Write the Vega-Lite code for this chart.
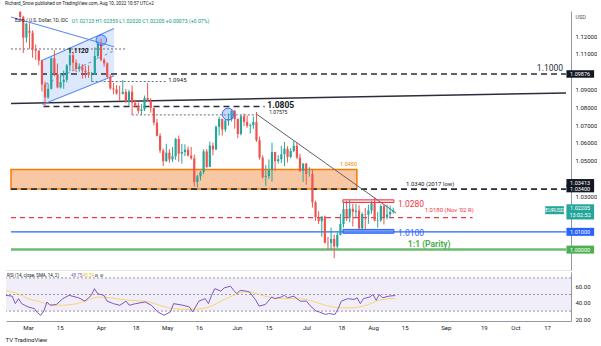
{
"$schema":"https://vega.github.io/schema/vega-lite/v6.json",
"background":"white",
"padding":{"left":5,"top":1,"right":0,"bottom":0},
"title":{"text":"Richard_Snow published on TradingView.com, Aug 10, 2022 10:57 UTC+2","anchor":"start","fontSize":4.6,"fontWeight":"normal","color":"#131722","offset":5.4,"font":"Roboto"},
"config":{"view":{"stroke":null},"font":"Roboto","concat":{"spacing":2},"axis":{"labelOverlap":false,"labelFlush":false,"grid":false,"ticks":false}},
"spacing":2,
"datasets":{
"candles":[
{"i":-4,"o":1.1335,"h":1.1344,"l":1.1290,"c":1.1308},
{"i":-3,"o":1.1308,"h":1.1315,"l":1.1106,"c":1.1192},
{"i":-2,"o":1.1192,"h":1.1274,"l":1.1164,"c":1.1270},
{"i":-1,"o":1.1230,"h":1.1273,"l":1.1129,"c":1.1219},
{"i":0,"o":1.1219,"h":1.1233,"l":1.1079,"c":1.1125},
{"i":1,"o":1.1125,"h":1.1153,"l":1.1066,"c":1.1118},
{"i":2,"o":1.1118,"h":1.1122,"l":1.1036,"c":1.1064},
{"i":3,"o":1.1064,"h":1.1069,"l":1.0889,"c":1.0929},
{"i":4,"o":1.0929,"h":1.0945,"l":1.0806,"c":1.0856},
{"i":5,"o":1.0856,"h":1.0933,"l":1.0848,"c":1.0904},
{"i":6,"o":1.0904,"h":1.1081,"l":1.0900,"c":1.1076},
{"i":7,"o":1.1076,"h":1.1121,"l":1.0975,"c":1.0986},
{"i":8,"o":1.0986,"h":1.1046,"l":1.0907,"c":1.0912},
{"i":9,"o":1.0912,"h":1.0992,"l":1.0906,"c":1.0942},
{"i":10,"o":1.0942,"h":1.1007,"l":1.0904,"c":1.0955},
{"i":11,"o":1.0955,"h":1.1043,"l":1.0940,"c":1.1036},
{"i":12,"o":1.1036,"h":1.1137,"l":1.1003,"c":1.1093},
{"i":13,"o":1.1093,"h":1.1113,"l":1.1008,"c":1.1051},
{"i":14,"o":1.1051,"h":1.1069,"l":1.0998,"c":1.1016},
{"i":15,"o":1.1016,"h":1.1047,"l":1.1000,"c":1.1030},
{"i":16,"o":1.1030,"h":1.1044,"l":1.0962,"c":1.1006},
{"i":17,"o":1.1006,"h":1.1033,"l":1.0964,"c":1.0998},
{"i":18,"o":1.0998,"h":1.1036,"l":1.0966,"c":1.0983},
{"i":19,"o":1.0983,"h":1.0999,"l":1.0945,"c":1.0985},
{"i":20,"o":1.0985,"h":1.1137,"l":1.0984,"c":1.1089},
{"i":21,"o":1.1089,"h":1.1170,"l":1.1073,"c":1.1158},
{"i":22,"o":1.1158,"h":1.1185,"l":1.1058,"c":1.1067},
{"i":23,"o":1.1067,"h":1.1077,"l":1.1028,"c":1.1047},
{"i":24,"o":1.1047,"h":1.1053,"l":1.0966,"c":1.0971},
{"i":25,"o":1.0971,"h":1.0985,"l":1.0900,"c":1.0906},
{"i":26,"o":1.0906,"h":1.0937,"l":1.0873,"c":1.0901},
{"i":27,"o":1.0901,"h":1.0925,"l":1.0872,"c":1.0877},
{"i":28,"o":1.0877,"h":1.0922,"l":1.0837,"c":1.0876},
{"i":29,"o":1.0876,"h":1.0954,"l":1.0872,"c":1.0887},
{"i":30,"o":1.0887,"h":1.0903,"l":1.0823,"c":1.0829},
{"i":31,"o":1.0829,"h":1.0898,"l":1.0808,"c":1.0888},
{"i":32,"o":1.0888,"h":1.0923,"l":1.0757,"c":1.0825},
{"i":33,"o":1.0825,"h":1.0842,"l":1.0800,"c":1.0810},
{"i":34,"o":1.0810,"h":1.0827,"l":1.0764,"c":1.0780},
{"i":35,"o":1.0780,"h":1.0818,"l":1.0757,"c":1.0788},
{"i":36,"o":1.0788,"h":1.0866,"l":1.0779,"c":1.0853},
{"i":37,"o":1.0853,"h":1.0936,"l":1.0830,"c":1.0837},
{"i":38,"o":1.0837,"h":1.0851,"l":1.0770,"c":1.0797},
{"i":39,"o":1.0797,"h":1.0797,"l":1.0698,"c":1.0714},
{"i":40,"o":1.0714,"h":1.0734,"l":1.0637,"c":1.0640},
{"i":41,"o":1.0640,"h":1.0654,"l":1.0543,"c":1.0557},
{"i":42,"o":1.0557,"h":1.0568,"l":1.0470,"c":1.0497},
{"i":43,"o":1.0497,"h":1.0595,"l":1.0494,"c":1.0545},
{"i":44,"o":1.0545,"h":1.0565,"l":1.0489,"c":1.0507},
{"i":45,"o":1.0507,"h":1.0576,"l":1.0493,"c":1.0525},
{"i":46,"o":1.0525,"h":1.0628,"l":1.0505,"c":1.0622},
{"i":47,"o":1.0622,"h":1.0641,"l":1.0493,"c":1.0540},
{"i":48,"o":1.0540,"h":1.0594,"l":1.0483,"c":1.0549},
{"i":49,"o":1.0549,"h":1.0592,"l":1.0526,"c":1.0562},
{"i":50,"o":1.0562,"h":1.0580,"l":1.0523,"c":1.0529},
{"i":51,"o":1.0529,"h":1.0577,"l":1.0506,"c":1.0513},
{"i":52,"o":1.0513,"h":1.0534,"l":1.0355,"c":1.0380},
{"i":53,"o":1.0380,"h":1.0421,"l":1.0350,"c":1.0412},
{"i":54,"o":1.0412,"h":1.0443,"l":1.0389,"c":1.0436},
{"i":55,"o":1.0436,"h":1.0564,"l":1.0424,"c":1.0552},
{"i":56,"o":1.0552,"h":1.0566,"l":1.0459,"c":1.0465},
{"i":57,"o":1.0465,"h":1.0607,"l":1.0463,"c":1.0585},
{"i":58,"o":1.0585,"h":1.0602,"l":1.0531,"c":1.0563},
{"i":59,"o":1.0563,"h":1.0698,"l":1.0560,"c":1.0690},
{"i":60,"o":1.0690,"h":1.0748,"l":1.0642,"c":1.0734},
{"i":61,"o":1.0734,"h":1.0737,"l":1.0641,"c":1.0675},
{"i":62,"o":1.0675,"h":1.0733,"l":1.0662,"c":1.0726},
{"i":63,"o":1.0726,"h":1.0765,"l":1.0697,"c":1.0733},
{"i":64,"o":1.0733,"h":1.0787,"l":1.0720,"c":1.0780},
{"i":65,"o":1.0780,"h":1.0786,"l":1.0680,"c":1.0734},
{"i":66,"o":1.0734,"h":1.0738,"l":1.0627,"c":1.0650},
{"i":67,"o":1.0650,"h":1.0757,"l":1.0642,"c":1.0750},
{"i":68,"o":1.0750,"h":1.0765,"l":1.0695,"c":1.0718},
{"i":69,"o":1.0718,"h":1.0754,"l":1.0685,"c":1.0696},
{"i":70,"o":1.0696,"h":1.0708,"l":1.0653,"c":1.0700},
{"i":71,"o":1.0700,"h":1.0748,"l":1.0679,"c":1.0717},
{"i":72,"o":1.0717,"h":1.0774,"l":1.0606,"c":1.0615},
{"i":73,"o":1.0615,"h":1.0636,"l":1.0506,"c":1.0517},
{"i":74,"o":1.0517,"h":1.0530,"l":1.0398,"c":1.0408},
{"i":75,"o":1.0408,"h":1.0475,"l":1.0359,"c":1.0413},
{"i":76,"o":1.0413,"h":1.0507,"l":1.0398,"c":1.0446},
{"i":77,"o":1.0446,"h":1.0601,"l":1.0382,"c":1.0549},
{"i":78,"o":1.0549,"h":1.0550,"l":1.0444,"c":1.0497},
{"i":79,"o":1.0497,"h":1.0531,"l":1.0484,"c":1.0508},
{"i":80,"o":1.0508,"h":1.0583,"l":1.0487,"c":1.0536},
{"i":81,"o":1.0536,"h":1.0605,"l":1.0469,"c":1.0567},
{"i":82,"o":1.0567,"h":1.0581,"l":1.0490,"c":1.0521},
{"i":83,"o":1.0521,"h":1.0571,"l":1.0513,"c":1.0555},
{"i":84,"o":1.0555,"h":1.0615,"l":1.0548,"c":1.0584},
{"i":85,"o":1.0584,"h":1.0606,"l":1.0510,"c":1.0518},
{"i":86,"o":1.0518,"h":1.0539,"l":1.0437,"c":1.0443},
{"i":87,"o":1.0443,"h":1.0486,"l":1.0381,"c":1.0484},
{"i":88,"o":1.0484,"h":1.0486,"l":1.0365,"c":1.0425},
{"i":89,"o":1.0425,"h":1.0463,"l":1.0410,"c":1.0425},
{"i":90,"o":1.0425,"h":1.0450,"l":1.0236,"c":1.0266},
{"i":91,"o":1.0266,"h":1.0276,"l":1.0162,"c":1.0182},
{"i":92,"o":1.0182,"h":1.0216,"l":1.0144,"c":1.0160},
{"i":93,"o":1.0160,"h":1.0187,"l":1.0072,"c":1.0186},
{"i":94,"o":1.0186,"h":1.0191,"l":1.0034,"c":1.0039},
{"i":95,"o":1.0039,"h":1.0072,"l":0.9999,"c":1.0037},
{"i":96,"o":1.0037,"h":1.0124,"l":0.9998,"c":1.0060},
{"i":97,"o":1.0060,"h":1.0085,"l":0.9952,"c":1.0018},
{"i":98,"o":1.0018,"h":1.0096,"l":1.0007,"c":1.0083},
{"i":99,"o":1.0083,"h":1.0201,"l":1.0080,"c":1.0144},
{"i":100,"o":1.0144,"h":1.0269,"l":1.0124,"c":1.0228},
{"i":101,"o":1.0228,"h":1.0274,"l":1.0162,"c":1.0180},
{"i":102,"o":1.0180,"h":1.0278,"l":1.0154,"c":1.0230},
{"i":103,"o":1.0230,"h":1.0258,"l":1.0130,"c":1.0213},
{"i":104,"o":1.0213,"h":1.0258,"l":1.0180,"c":1.0220},
{"i":105,"o":1.0220,"h":1.0250,"l":1.0110,"c":1.0120},
{"i":106,"o":1.0120,"h":1.0210,"l":1.0097,"c":1.0200},
{"i":107,"o":1.0200,"h":1.0235,"l":1.0113,"c":1.0197},
{"i":108,"o":1.0197,"h":1.0253,"l":1.0145,"c":1.0220},
{"i":109,"o":1.0220,"h":1.0274,"l":1.0201,"c":1.0260},
{"i":110,"o":1.0260,"h":1.0294,"l":1.0159,"c":1.0163},
{"i":111,"o":1.0163,"h":1.0211,"l":1.0123,"c":1.0165},
{"i":112,"o":1.0165,"h":1.0254,"l":1.0155,"c":1.0245},
{"i":113,"o":1.0245,"h":1.0253,"l":1.0141,"c":1.0181},
{"i":114,"o":1.0181,"h":1.0253,"l":1.0170,"c":1.0198},
{"i":115,"o":1.0198,"h":1.0248,"l":1.0180,"c":1.0212},
{"i":116,"o":1.02123,"h":1.02359,"l":1.02020,"c":1.02205}
],
"seg":[
{"id":"res1","i":-6.95,"i2":171.56,"y":1.09876,"y2":1.09876},
{"id":"res2","i":3.5,"i2":74.6,"y":1.0805,"y2":1.0805},
{"id":"sup1","i":-6.95,"i2":171.56,"y":1.0340,"y2":1.0340},
{"id":"dot1","i":-6.95,"i2":30.3,"y":1.1128,"y2":1.1128},
{"id":"dot2","i":19,"i2":42.9,"y":1.0945,"y2":1.0945},
{"id":"dot3","i":31.9,"i2":72,"y":1.07575,"y2":1.07575},
{"id":"trend","i":-6.95,"i2":171.56,"y":1.0822,"y2":1.0881},
{"id":"diag","i":72,"i2":116.9,"y":1.0762,"y2":1.0205},
{"id":"desc","i":-6.95,"i2":26.2,"y":1.1308,"y2":1.1141},
{"id":"chUp","i":3.16,"i2":26.2,"y":1.1065,"y2":1.1243},
{"id":"chLo","i":3.16,"i2":26.2,"y":1.0816,"y2":1.0978},
{"id":"chMid","i":4.1,"i2":26.2,"y":1.0930,"y2":1.1119},
{"id":"r1018","i":-6.95,"i2":141.5,"y":1.0180,"y2":1.0180},
{"id":"b1010","i":-6.95,"i2":171.56,"y":1.0100,"y2":1.0100},
{"id":"parity","i":-6.95,"i2":171.56,"y":1.0,"y2":1.0}
],
"rsi":[
{"i":-7,"v":49},{"i":-5,"v":48},{"i":-4,"v":39},{"i":-3,"v":45},{"i":-2,"v":39},{"i":-1,"v":37},{"i":0,"v":35},{"i":2,"v":33},{"i":3,"v":28},{"i":4,"v":25},{"i":5,"v":30},{"i":6,"v":41},{"i":7,"v":37},{"i":9,"v":38},{"i":11,"v":45},{"i":13,"v":49},{"i":16,"v":46},{"i":18,"v":42},{"i":20,"v":49},{"i":21,"v":57},{"i":22,"v":51},{"i":24,"v":49},{"i":25,"v":42},{"i":27,"v":39},{"i":29,"v":37},{"i":31,"v":42},{"i":32,"v":37},{"i":34,"v":39},{"i":37,"v":41},{"i":39,"v":37},{"i":41,"v":29},{"i":43,"v":25},{"i":45,"v":29},{"i":46,"v":39},{"i":49,"v":37},{"i":51,"v":35},{"i":52,"v":29},{"i":54,"v":42},{"i":56,"v":45},{"i":57,"v":39},{"i":58,"v":49},{"i":59,"v":57},{"i":61,"v":54},{"i":62,"v":58},{"i":64,"v":60},{"i":65,"v":55},{"i":66,"v":51},{"i":67,"v":55},{"i":69,"v":54},{"i":70,"v":53},{"i":72,"v":43},{"i":73,"v":36},{"i":75,"v":38},{"i":77,"v":47},{"i":78,"v":45},{"i":80,"v":47},{"i":81,"v":49},{"i":82,"v":46},{"i":84,"v":48},{"i":86,"v":42},{"i":88,"v":42},{"i":89,"v":37},{"i":91,"v":30},{"i":92,"v":29},{"i":94,"v":26},{"i":95,"v":27},{"i":97,"v":26},{"i":98,"v":33},{"i":99,"v":42},{"i":101,"v":45},{"i":103,"v":44},{"i":104,"v":46},{"i":105,"v":39},{"i":106,"v":45},{"i":108,"v":47},{"i":109,"v":50},{"i":110,"v":43},{"i":111,"v":50},{"i":112,"v":46},{"i":114,"v":48},{"i":116,"v":48.75}
],
"sma":[
{"i":-7,"v":55},{"i":-5,"v":53},{"i":-2,"v":49},{"i":0,"v":45},{"i":3,"v":42},{"i":7,"v":38},{"i":10,"v":37},{"i":14,"v":38},{"i":18,"v":42},{"i":22,"v":47},{"i":26,"v":46},{"i":32,"v":43},{"i":37,"v":42},{"i":42,"v":36.5},{"i":46,"v":33},{"i":51,"v":32},{"i":55,"v":33},{"i":58,"v":36},{"i":61,"v":42},{"i":65,"v":49},{"i":68,"v":53},{"i":70,"v":53},{"i":74,"v":49},{"i":77,"v":46},{"i":81,"v":45},{"i":86,"v":45},{"i":89,"v":43},{"i":95,"v":36},{"i":99,"v":34},{"i":102,"v":34},{"i":106,"v":36},{"i":111,"v":43},{"i":116,"v":45.54}
]
},
"vconcat":[
{
"width":565,"height":259,
"layer":[
{"data":{"values":[{"i":-6.95,"i2":104.3,"y":1.03413,"y2":1.0450}]},
 "mark":{"type":"rect","fill":"#f8c8a4","stroke":"#f57c00","strokeWidth":1.5},
 "encoding":{
  "x":{"field":"i","type":"quantitative","scale":{"domain":[-6.95,171.56],"nice":false,"zero":false},"axis":{"labels":false,"ticks":false,"domain":true,"domainColor":"#e0e3eb","grid":false,"title":null,"tickCount":5}},
  "x2":{"field":"i2"},
  "y":{"field":"y","type":"quantitative","scale":{"domain":[0.991351,1.131351],"nice":false,"zero":false},"axis":{"orient":"right","values":[1.03,1.05,1.06,1.07,1.08,1.09,1.11,1.12],"tickCount":100,"format":".5f","labelFontSize":6,"labelColor":"#131722","ticks":false,"labelPadding":4,"labelFlush":false,"labelOverlap":false,"domain":true,"domainColor":"#9598a1","grid":false,"title":"USD","titleAngle":0,"titleAlign":"left","titleBaseline":"middle","titleX":4,"titleY":5,"titleFontSize":5.5,"titleFontWeight":"normal","titleColor":"#555"}},
  "y2":{"field":"y2"}}},
{"data":{"values":[{"i":3.16,"y":1.0816,"y2":1.1065},{"i":26.2,"y":1.0978,"y2":1.1243}]},
 "mark":{"type":"area","color":"#5b8def","opacity":0.2},
 "encoding":{
  "x":{"field":"i","type":"quantitative","scale":{"domain":[-6.95,171.56],"nice":false,"zero":false}},
  "y":{"field":"y","type":"quantitative","scale":{"domain":[0.991351,1.131351],"nice":false,"zero":false}},
  "y2":{"field":"y2"}}},
{"data":{"name":"seg"},"transform":[{"filter":{"field":"id","oneOf":["res1","res2","sup1"]}}],
 "mark":{"type":"rule","color":"#2a2e39","strokeWidth":1.6,"strokeDash":[6,4],"clip":true},
 "encoding":{"x":{"field":"i","type":"quantitative","scale":{"domain":[-6.95,171.56],"nice":false,"zero":false}},"x2":{"field":"i2"},
  "y":{"field":"y","type":"quantitative","scale":{"domain":[0.991351,1.131351],"nice":false,"zero":false}},"y2":{"field":"y2"}}},
{"data":{"name":"seg"},"transform":[{"filter":{"field":"id","oneOf":["dot1","dot2","dot3"]}}],
 "mark":{"type":"rule","color":"#6a6d78","strokeWidth":1,"strokeDash":[2,2],"clip":true},
 "encoding":{"x":{"field":"i","type":"quantitative","scale":{"domain":[-6.95,171.56],"nice":false,"zero":false}},"x2":{"field":"i2"},
  "y":{"field":"y","type":"quantitative","scale":{"domain":[0.991351,1.131351],"nice":false,"zero":false}},"y2":{"field":"y2"}}},
{"data":{"name":"seg"},"transform":[{"filter":{"field":"id","oneOf":["trend"]}}],
 "mark":{"type":"rule","color":"#2a2e39","strokeWidth":1.5,"clip":true},
 "encoding":{"x":{"field":"i","type":"quantitative","scale":{"domain":[-6.95,171.56],"nice":false,"zero":false}},"x2":{"field":"i2"},
  "y":{"field":"y","type":"quantitative","scale":{"domain":[0.991351,1.131351],"nice":false,"zero":false}},"y2":{"field":"y2"}}},
{"data":{"name":"seg"},"transform":[{"filter":{"field":"id","oneOf":["diag"]}}],
 "mark":{"type":"rule","color":"#5d606b","strokeWidth":1,"clip":true},
 "encoding":{"x":{"field":"i","type":"quantitative","scale":{"domain":[-6.95,171.56],"nice":false,"zero":false}},"x2":{"field":"i2"},
  "y":{"field":"y","type":"quantitative","scale":{"domain":[0.991351,1.131351],"nice":false,"zero":false}},"y2":{"field":"y2"}}},
{"data":{"name":"seg"},"transform":[{"filter":{"field":"id","oneOf":["desc","chUp","chLo"]}}],
 "mark":{"type":"rule","color":"#5b8def","strokeWidth":1.1,"clip":true},
 "encoding":{"x":{"field":"i","type":"quantitative","scale":{"domain":[-6.95,171.56],"nice":false,"zero":false}},"x2":{"field":"i2"},
  "y":{"field":"y","type":"quantitative","scale":{"domain":[0.991351,1.131351],"nice":false,"zero":false}},"y2":{"field":"y2"}}},
{"data":{"name":"seg"},"transform":[{"filter":{"field":"id","oneOf":["chMid"]}}],
 "mark":{"type":"rule","color":"#5b8def","strokeWidth":1,"strokeDash":[3,3],"clip":true},
 "encoding":{"x":{"field":"i","type":"quantitative","scale":{"domain":[-6.95,171.56],"nice":false,"zero":false}},"x2":{"field":"i2"},
  "y":{"field":"y","type":"quantitative","scale":{"domain":[0.991351,1.131351],"nice":false,"zero":false}},"y2":{"field":"y2"}}},
{"data":{"name":"seg"},"transform":[{"filter":{"field":"id","oneOf":["r1018"]}}],
 "mark":{"type":"rule","color":"#f23645","strokeWidth":1.2,"strokeDash":[5,4],"clip":true},
 "encoding":{"x":{"field":"i","type":"quantitative","scale":{"domain":[-6.95,171.56],"nice":false,"zero":false}},"x2":{"field":"i2"},
  "y":{"field":"y","type":"quantitative","scale":{"domain":[0.991351,1.131351],"nice":false,"zero":false}},"y2":{"field":"y2"}}},
{"data":{"name":"seg"},"transform":[{"filter":{"field":"id","oneOf":["b1010"]}}],
 "mark":{"type":"rule","color":"#2962ff","strokeWidth":1.3,"clip":true},
 "encoding":{"x":{"field":"i","type":"quantitative","scale":{"domain":[-6.95,171.56],"nice":false,"zero":false}},"x2":{"field":"i2"},
  "y":{"field":"y","type":"quantitative","scale":{"domain":[0.991351,1.131351],"nice":false,"zero":false}},"y2":{"field":"y2"}}},
{"data":{"name":"seg"},"transform":[{"filter":{"field":"id","oneOf":["parity"]}}],
 "mark":{"type":"rule","color":"#6dbb70","strokeWidth":2.5,"clip":true},
 "encoding":{"x":{"field":"i","type":"quantitative","scale":{"domain":[-6.95,171.56],"nice":false,"zero":false}},"x2":{"field":"i2"},
  "y":{"field":"y","type":"quantitative","scale":{"domain":[0.991351,1.131351],"nice":false,"zero":false}},"y2":{"field":"y2"}}},
{"data":{"name":"candles"},
 "mark":{"type":"rule","strokeWidth":1,"clip":true},
 "encoding":{"x":{"field":"i","type":"quantitative","scale":{"domain":[-6.95,171.56],"nice":false,"zero":false}},
  "y":{"field":"l","type":"quantitative","scale":{"domain":[0.991351,1.131351],"nice":false,"zero":false}},"y2":{"field":"h"},
  "color":{"condition":{"test":"datum.c >= datum.o","value":"#26a69a"},"value":"#ef5350"}}},
{"data":{"name":"candles"},
 "mark":{"type":"bar","size":2.2,"clip":true},
 "encoding":{"x":{"field":"i","type":"quantitative","scale":{"domain":[-6.95,171.56],"nice":false,"zero":false}},
  "y":{"field":"o","type":"quantitative","scale":{"domain":[0.991351,1.131351],"nice":false,"zero":false}},"y2":{"field":"c"},
  "color":{"condition":{"test":"datum.c >= datum.o","value":"#26a69a"},"value":"#ef5350"}}},
{"data":{"values":[{"i":99.8,"i2":116.2,"y":1.0265,"y2":1.0280}]},
 "mark":{"type":"rect","fill":"#f23645","fillOpacity":0.2,"stroke":"#f23645","strokeWidth":1},
 "encoding":{"x":{"field":"i","type":"quantitative","scale":{"domain":[-6.95,171.56],"nice":false,"zero":false}},"x2":{"field":"i2"},
  "y":{"field":"y","type":"quantitative","scale":{"domain":[0.991351,1.131351],"nice":false,"zero":false}},"y2":{"field":"y2"}}},
{"data":{"values":[{"i":99.8,"i2":116.2,"y":1.0092,"y2":1.01135}]},
 "mark":{"type":"rect","fill":"#5b8def","fillOpacity":0.85,"stroke":"#2962ff","strokeWidth":1},
 "encoding":{"x":{"field":"i","type":"quantitative","scale":{"domain":[-6.95,171.56],"nice":false,"zero":false}},"x2":{"field":"i2"},
  "y":{"field":"y","type":"quantitative","scale":{"domain":[0.991351,1.131351],"nice":false,"zero":false}},"y2":{"field":"y2"}}},
{"data":{"values":[{"i":22.1,"y":1.1178,"s":110},{"i":62.9,"y":1.0762,"s":140}]},
 "mark":{"type":"point","shape":"circle","filled":true,"fill":"#5b8def","fillOpacity":0.35,"stroke":"#2962ff","strokeWidth":1,"strokeOpacity":0.9},
 "encoding":{"x":{"field":"i","type":"quantitative","scale":{"domain":[-6.95,171.56],"nice":false,"zero":false}},
  "y":{"field":"y","type":"quantitative","scale":{"domain":[0.991351,1.131351],"nice":false,"zero":false}},
  "size":{"field":"s","type":"quantitative","scale":null,"legend":null}}},
{"data":{"values":[{"t":"1.1000","i":170.6,"y":1.1022}]},
 "mark":{"type":"text","align":"right","baseline":"middle","fontSize":8.5,"color":"#2a2e39"},
 "encoding":{"x":{"field":"i","type":"quantitative","scale":{"domain":[-6.95,171.56],"nice":false,"zero":false}},
  "y":{"field":"y","type":"quantitative","scale":{"domain":[0.991351,1.131351],"nice":false,"zero":false}},"text":{"field":"t"}}},
{"data":{"values":[{"t":"1.0805","i":75.5,"y":1.0811}]},
 "mark":{"type":"text","align":"left","baseline":"middle","fontSize":8.5,"fontWeight":"bold","color":"#131722"},
 "encoding":{"x":{"field":"i","type":"quantitative","scale":{"domain":[-6.95,171.56],"nice":false,"zero":false}},
  "y":{"field":"y","type":"quantitative","scale":{"domain":[0.991351,1.131351],"nice":false,"zero":false}},"text":{"field":"t"}}},
{"data":{"values":[{"t":"1.1120","i":11.4,"y":1.1119}]},
 "mark":{"type":"text","align":"left","baseline":"middle","fontSize":6.5,"fontWeight":"bold","color":"#131722"},
 "encoding":{"x":{"field":"i","type":"quantitative","scale":{"domain":[-6.95,171.56],"nice":false,"zero":false}},
  "y":{"field":"y","type":"quantitative","scale":{"domain":[0.991351,1.131351],"nice":false,"zero":false}},"text":{"field":"t"}}},
{"data":{"values":[{"t":"1.0945","i":43.6,"y":1.0951},{"t":"1.0340 (2017 low)","i":120.1,"y":1.0368}]},
 "mark":{"type":"text","align":"left","baseline":"middle","fontSize":6,"color":"#131722"},
 "encoding":{"x":{"field":"i","type":"quantitative","scale":{"domain":[-6.95,171.56],"nice":false,"zero":false}},
  "y":{"field":"y","type":"quantitative","scale":{"domain":[0.991351,1.131351],"nice":false,"zero":false}},"text":{"field":"t"}}},
{"data":{"values":[{"t":"1.07575","i":76.1,"y":1.0773}]},
 "mark":{"type":"text","align":"left","baseline":"middle","fontSize":5,"color":"#131722"},
 "encoding":{"x":{"field":"i","type":"quantitative","scale":{"domain":[-6.95,171.56],"nice":false,"zero":false}},
  "y":{"field":"y","type":"quantitative","scale":{"domain":[0.991351,1.131351],"nice":false,"zero":false}},"text":{"field":"t"}}},
{"data":{"values":[{"t":"1.0450","i":98.9,"y":1.0481}]},
 "mark":{"type":"text","align":"left","baseline":"middle","fontSize":5.5,"color":"#f57c00"},
 "encoding":{"x":{"field":"i","type":"quantitative","scale":{"domain":[-6.95,171.56],"nice":false,"zero":false}},
  "y":{"field":"y","type":"quantitative","scale":{"domain":[0.991351,1.131351],"nice":false,"zero":false}},"text":{"field":"t"}}},
{"data":{"values":[{"t":"1.0280","i":117.5,"y":1.0254}]},
 "mark":{"type":"text","align":"left","baseline":"middle","fontSize":8.5,"color":"#f23645"},
 "encoding":{"x":{"field":"i","type":"quantitative","scale":{"domain":[-6.95,171.56],"nice":false,"zero":false}},
  "y":{"field":"y","type":"quantitative","scale":{"domain":[0.991351,1.131351],"nice":false,"zero":false}},"text":{"field":"t"}}},
{"data":{"values":[{"t":"1.0180 (Nov '02 R)","i":126.1,"y":1.0222}]},
 "mark":{"type":"text","align":"left","baseline":"middle","fontSize":6,"color":"#f23645"},
 "encoding":{"x":{"field":"i","type":"quantitative","scale":{"domain":[-6.95,171.56],"nice":false,"zero":false}},
  "y":{"field":"y","type":"quantitative","scale":{"domain":[0.991351,1.131351],"nice":false,"zero":false}},"text":{"field":"t"}}},
{"data":{"values":[{"t":"1.0100","i":117.5,"y":1.0092}]},
 "mark":{"type":"text","align":"left","baseline":"middle","fontSize":8.5,"color":"#2962ff"},
 "encoding":{"x":{"field":"i","type":"quantitative","scale":{"domain":[-6.95,171.56],"nice":false,"zero":false}},
  "y":{"field":"y","type":"quantitative","scale":{"domain":[0.991351,1.131351],"nice":false,"zero":false}},"text":{"field":"t"}}},
{"data":{"values":[{"t":"1:1 (Parity)","i":120.7,"y":1.0032}]},
 "mark":{"type":"text","align":"left","baseline":"middle","fontSize":8.5,"fontWeight":"bold","color":"#4caf50"},
 "encoding":{"x":{"field":"i","type":"quantitative","scale":{"domain":[-6.95,171.56],"nice":false,"zero":false}},
  "y":{"field":"y","type":"quantitative","scale":{"domain":[0.991351,1.131351],"nice":false,"zero":false}},"text":{"field":"t"}}},
{"data":{"values":[{"t":"Euro / U.S. Dollar, 1D, IDC","i":-5.7,"y":1.1286}]},
 "mark":{"type":"text","align":"left","baseline":"middle","fontSize":4.8,"color":"#131722"},
 "encoding":{"x":{"field":"i","type":"quantitative","scale":{"domain":[-6.95,171.56],"nice":false,"zero":false}},
  "y":{"field":"y","type":"quantitative","scale":{"domain":[0.991351,1.131351],"nice":false,"zero":false}},"text":{"field":"t"}}},
{"data":{"values":[{"t":"O1.02123  H1.02359  L1.02020  C1.02205  +0.00073 (+0.07%)","i":12.6,"y":1.1286}]},
 "mark":{"type":"text","align":"left","baseline":"middle","fontSize":5.2,"color":"#089981"},
 "encoding":{"x":{"field":"i","type":"quantitative","scale":{"domain":[-6.95,171.56],"nice":false,"zero":false}},
  "y":{"field":"y","type":"quantitative","scale":{"domain":[0.991351,1.131351],"nice":false,"zero":false}},"text":{"field":"t"}}},
{"data":{"values":[{"t":"EURUSD","y":1.02216}]},
 "mark":{"type":"bar","orient":"horizontal","size":8,"color":"#26a69a","clip":false},
 "encoding":{"x":{"datum":164.9,"type":"quantitative","scale":{"domain":[-6.95,171.56],"nice":false,"zero":false}},"x2":{"datum":170.9},
  "y":{"field":"y","type":"quantitative","scale":{"domain":[0.991351,1.131351],"nice":false,"zero":false}}}},
{"data":{"values":[{"t":"EURUSD","y":1.02216}]},
 "mark":{"type":"text","align":"center","baseline":"middle","fontSize":5,"color":"white","clip":false},
 "encoding":{"x":{"datum":167.9,"type":"quantitative","scale":{"domain":[-6.95,171.56],"nice":false,"zero":false}},
  "y":{"field":"y","type":"quantitative","scale":{"domain":[0.991351,1.131351],"nice":false,"zero":false}},"text":{"field":"t"}}},
{"data":{"values":[{"t":"1.09876","y":1.09876},{"t":"1.03413","y":1.03757},{"t":"1.03400","y":1.03432}]},
 "mark":{"type":"bar","orient":"horizontal","size":7.5,"color":"#131722","clip":false},
 "encoding":{"x":{"datum":171.7,"type":"quantitative","scale":{"domain":[-6.95,171.56],"nice":false,"zero":false}},"x2":{"datum":180.6},
  "y":{"field":"y","type":"quantitative","scale":{"domain":[0.991351,1.131351],"nice":false,"zero":false}}}},
{"data":{"values":[{"t":"1.02205","y":1.02324},{"t":"13:02:52","y":1.01919}]},
 "mark":{"type":"bar","orient":"horizontal","size":8,"color":"#26a69a","clip":false},
 "encoding":{"x":{"datum":171.7,"type":"quantitative","scale":{"domain":[-6.95,171.56],"nice":false,"zero":false}},"x2":{"datum":180.6},
  "y":{"field":"y","type":"quantitative","scale":{"domain":[0.991351,1.131351],"nice":false,"zero":false}}}},
{"data":{"values":[{"t":"1.01000","y":1.0100}]},
 "mark":{"type":"bar","orient":"horizontal","size":8,"color":"#2962ff","clip":false},
 "encoding":{"x":{"datum":171.7,"type":"quantitative","scale":{"domain":[-6.95,171.56],"nice":false,"zero":false}},"x2":{"datum":180.6},
  "y":{"field":"y","type":"quantitative","scale":{"domain":[0.991351,1.131351],"nice":false,"zero":false}}}},
{"data":{"values":[{"t":"1.00000","y":1.0}]},
 "mark":{"type":"bar","orient":"horizontal","size":8,"color":"#4caf50","clip":false},
 "encoding":{"x":{"datum":171.7,"type":"quantitative","scale":{"domain":[-6.95,171.56],"nice":false,"zero":false}},"x2":{"datum":180.6},
  "y":{"field":"y","type":"quantitative","scale":{"domain":[0.991351,1.131351],"nice":false,"zero":false}}}},
{"data":{"values":[{"t":"1.09876","y":1.09876},{"t":"1.03413","y":1.03757},{"t":"1.03400","y":1.03432},{"t":"1.02205","y":1.02324},{"t":"13:02:52","y":1.01919},{"t":"1.01000","y":1.0100},{"t":"1.00000","y":1.0}]},
 "mark":{"type":"text","align":"center","baseline":"middle","fontSize":5.5,"color":"white","clip":false},
 "encoding":{"x":{"datum":176.1,"type":"quantitative","scale":{"domain":[-6.95,171.56],"nice":false,"zero":false}},
  "y":{"field":"y","type":"quantitative","scale":{"domain":[0.991351,1.131351],"nice":false,"zero":false}},"text":{"field":"t"}}}
]
},
{
"width":565,"height":49,
"layer":[
{"data":{"values":[{"i":-6.95,"i2":171.56,"y":30,"y2":70}]},
 "mark":{"type":"rect","color":"#7e57c2","opacity":0.1},
 "encoding":{
  "x":{"field":"i","type":"quantitative","scale":{"domain":[-6.95,171.56],"nice":false,"zero":false},"axis":{"values":[0,10,23,34,44,54,66,76,88,99,109,119,132,144,154,164],"tickCount":100,"labelExpr":"['Mar','15','Apr','18','May','16','Jun','15','Jul','18','Aug','15','Sep','19','Oct','17'][indexof([0,10,23,34,44,54,66,76,88,99,109,119,132,144,154,164], datum.value)]","labelFontSize":6,"labelColor":"#131722","ticks":false,"labelPadding":3,"labelFlush":false,"labelOverlap":false,"domain":true,"domainColor":"#9598a1","grid":false,"title":"TV  TradingView","titleAnchor":"start","titleAlign":"left","titleBaseline":"middle","titleX":-1,"titleY":18,"titleFontSize":6,"titleFontWeight":"normal","titleColor":"#131722"}},
  "x2":{"field":"i2"},
  "y":{"field":"y","type":"quantitative","scale":{"domain":[18.07,77.1],"nice":false,"zero":false},"axis":{"orient":"right","values":[20,40,60],"tickCount":100,"format":".2f","labelFontSize":6,"labelColor":"#131722","ticks":false,"labelPadding":4,"labelFlush":false,"labelOverlap":false,"domain":true,"domainColor":"#9598a1","grid":false,"title":null}},
  "y2":{"field":"y2"}}},
{"data":{"values":[{"y":30},{"y":50},{"y":70}]},
 "mark":{"type":"rule","color":"#9598a1","strokeWidth":1,"strokeDash":[2,2]},
 "encoding":{"y":{"field":"y","type":"quantitative","scale":{"domain":[18.07,77.1],"nice":false,"zero":false}}}},
{"data":{"name":"sma"},
 "mark":{"type":"line","color":"#f5d76e","strokeWidth":1,"interpolate":"monotone","clip":true},
 "encoding":{"x":{"field":"i","type":"quantitative","scale":{"domain":[-6.95,171.56],"nice":false,"zero":false}},
  "y":{"field":"v","type":"quantitative","scale":{"domain":[18.07,77.1],"nice":false,"zero":false}}}},
{"data":{"name":"rsi"},
 "mark":{"type":"line","color":"#7e57c2","strokeWidth":1,"clip":true},
 "encoding":{"x":{"field":"i","type":"quantitative","scale":{"domain":[-6.95,171.56],"nice":false,"zero":false}},
  "y":{"field":"v","type":"quantitative","scale":{"domain":[18.07,77.1],"nice":false,"zero":false}}}},
{"data":{"values":[{"t":"RSI (14, close, SMA, 14, 2)","i":-6.6,"y":72.3}]},
 "mark":{"type":"text","align":"left","baseline":"middle","fontSize":4.5,"color":"#131722"},
 "encoding":{"x":{"field":"i","type":"quantitative","scale":{"domain":[-6.95,171.56],"nice":false,"zero":false}},
  "y":{"field":"y","type":"quantitative","scale":{"domain":[18.07,77.1],"nice":false,"zero":false}},"text":{"field":"t"}}},
{"data":{"values":[{"t":"48.75","i":13.6,"y":72.3}]},
 "mark":{"type":"text","align":"left","baseline":"middle","fontSize":4.5,"color":"#7e57c2"},
 "encoding":{"x":{"field":"i","type":"quantitative","scale":{"domain":[-6.95,171.56],"nice":false,"zero":false}},
  "y":{"field":"y","type":"quantitative","scale":{"domain":[18.07,77.1],"nice":false,"zero":false}},"text":{"field":"t"}}},
{"data":{"values":[{"t":"45.54","i":17.3,"y":72.3}]},
 "mark":{"type":"text","align":"left","baseline":"middle","fontSize":4.5,"color":"#e8c320"},
 "encoding":{"x":{"field":"i","type":"quantitative","scale":{"domain":[-6.95,171.56],"nice":false,"zero":false}},
  "y":{"field":"y","type":"quantitative","scale":{"domain":[18.07,77.1],"nice":false,"zero":false}},"text":{"field":"t"}}},
{"data":{"values":[{"t":"⊘ ⊘","i":21,"y":72.3}]},
 "mark":{"type":"text","align":"left","baseline":"middle","fontSize":4.5,"color":"#131722","font":"DejaVu Sans"},
 "encoding":{"x":{"field":"i","type":"quantitative","scale":{"domain":[-6.95,171.56],"nice":false,"zero":false}},
  "y":{"field":"y","type":"quantitative","scale":{"domain":[18.07,77.1],"nice":false,"zero":false}},"text":{"field":"t"}}}
]
}
]
}
